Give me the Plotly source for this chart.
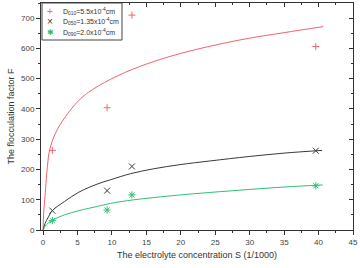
import plotly.graph_objects as go

# measured points
s_pts = [1.35, 9.3, 12.9, 39.6]
f_red = [263, 404, 710, 606]
f_black = [64, 130, 210, 262]
f_green = [31, 66, 116, 146]

# fitted curves
s_red = [0, 0.1, 0.24, 0.63, 0.96, 1.83, 3.3, 5.1, 6.6, 9.8, 14, 19.9, 28.6, 35, 40.7]
c_red = [0, 60, 100, 210, 265, 321, 376, 426, 455, 498, 540, 583, 628, 652, 672]
s_blk = [0, 0.3, 0.7, 1.35, 3.1, 5.2, 7.9, 9.8, 12.7, 16, 19.9, 24.2, 30, 35, 40.5]
c_blk = [0, 22, 40, 64, 94, 125, 152, 166, 186, 202, 216, 228, 243, 254, 263]
s_grn = [0, 0.3, 0.7, 1.35, 3.1, 5.2, 7.9, 9.8, 12.9, 16, 20, 24.2, 30, 35, 40.6]
c_grn = [0, 12, 22, 32, 50, 64, 78, 88, 99, 107, 116, 124, 134, 142, 149]

labels = ["D<sub>010</sub>=5.5x10<sup>-4</sup>cm",
          "D<sub>050</sub>=1.35x10<sup>-4</sup>cm",
          "D<sub>090</sub>=2.0x10<sup>-4</sup>cm"]
legend_symbols = ["+", "×", "✱"]

RED = "#f2636b"
BLK = "#3a3a3a"
GRN = "#2fbf72"
colors = [RED, BLK, GRN]

W, H = 360, 268
ML, MR, MT, MB = 41, 7, 3, 38
PW, PH = W - ML - MR, H - MT - MB

def px(x):
    return (x - ML) / PW

def py(y):
    return (H - MB - y) / PH

fig = go.Figure()
fig.add_trace(go.Scatter(x=s_pts, y=f_red, mode="markers", name=labels[0], showlegend=False,
                         marker=dict(symbol="cross-thin", size=5, line=dict(color=RED, width=1))))
fig.add_trace(go.Scatter(x=s_pts, y=f_black, mode="markers", name=labels[1], showlegend=False,
                         marker=dict(symbol="x-thin", size=6, line=dict(color=BLK, width=1))))
fig.add_trace(go.Scatter(x=s_pts, y=f_green, mode="markers", name=labels[2], showlegend=False,
                         marker=dict(symbol="asterisk", size=6, color=GRN, line=dict(color=GRN, width=1))))
for sx, cy, col in [(s_red, c_red, RED), (s_blk, c_blk, BLK), (s_grn, c_grn, GRN)]:
    fig.add_trace(go.Scatter(x=sx, y=cy, mode="lines", line=dict(color=col, width=1, shape="spline"),
                             showlegend=False, hoverinfo="skip"))
# invisible trace for mirrored axes
fig.add_trace(go.Scatter(x=[0], y=[0], xaxis="x2", yaxis="y2", mode="markers",
                         marker=dict(opacity=0), showlegend=False, hoverinfo="skip"))

# legend drawn by hand (box + symbols + labels)
fig.add_shape(type="rect", xref="paper", yref="paper",
              x0=px(42), x1=px(122), y0=py(40), y1=py(3),
              line=dict(color="#444", width=1), fillcolor="white", layer="above")
row_y = [11, 22, 32.5]
sym_sizes = [10, 10, 8]
for i in range(3):
    fig.add_annotation(xref="paper", yref="paper", x=px(50), y=py(row_y[i]),
                       text=legend_symbols[i], showarrow=False, xanchor="center", yanchor="middle",
                       font=dict(size=sym_sizes[i], color=colors[i]))
    fig.add_annotation(xref="paper", yref="paper", x=px(61), y=py(row_y[i]),
                       text=labels[i], showarrow=False, xanchor="left", yanchor="middle",
                       font=dict(size=7, color="#333"))

axcol = "#333333"
fig.update_layout(
    width=W, height=H,
    margin=dict(l=ML, r=MR, t=MT, b=MB, autoexpand=False),
    paper_bgcolor="white", plot_bgcolor="white",
    font=dict(family="Liberation Sans, Arial, sans-serif", size=8, color="#333"),
    showlegend=False,
    xaxis=dict(range=[-0.3, 45], dtick=5, tick0=0, showgrid=False, zeroline=False, automargin=False,
               showline=True, linecolor=axcol, linewidth=1, ticks="outside", ticklen=4,
               tickcolor=axcol, tickfont=dict(size=8, color="#444"),
               minor=dict(dtick=2.5, ticks="outside", ticklen=2, tickcolor=axcol),
               title=dict(text="The electrolyte concentration S (1/1000)", font=dict(size=9, color="#333"), standoff=6)),
    yaxis=dict(range=[0, 750], dtick=100, showgrid=False, zeroline=False, automargin=False,
               showline=True, linecolor=axcol, linewidth=1, ticks="outside", ticklen=4,
               tickcolor=axcol, tickfont=dict(size=8, color="#444"),
               minor=dict(dtick=50, ticks="outside", ticklen=2, tickcolor=axcol),
               title=dict(text="The flocculation factor F", font=dict(size=9, color="#333"), standoff=4)),
    xaxis2=dict(range=[-0.3, 45], dtick=5, tick0=0, overlaying="x", side="top", showgrid=False,
                zeroline=False, showline=True, linecolor=axcol, linewidth=1, ticks="inside",
                ticklen=4, tickcolor=axcol, showticklabels=False, automargin=False,
                minor=dict(dtick=2.5, ticks="inside", ticklen=2, tickcolor=axcol)),
    yaxis2=dict(range=[0, 750], dtick=100, overlaying="y", side="right", showgrid=False,
                zeroline=False, showline=True, linecolor=axcol, linewidth=1, ticks="inside",
                ticklen=4, tickcolor=axcol, showticklabels=False, automargin=False,
                minor=dict(dtick=50, ticks="inside", ticklen=2, tickcolor=axcol)),
)
fig.write_html("out.html", config={"displayModeBar": False},
               post_script="document.body.style.margin='0';")
